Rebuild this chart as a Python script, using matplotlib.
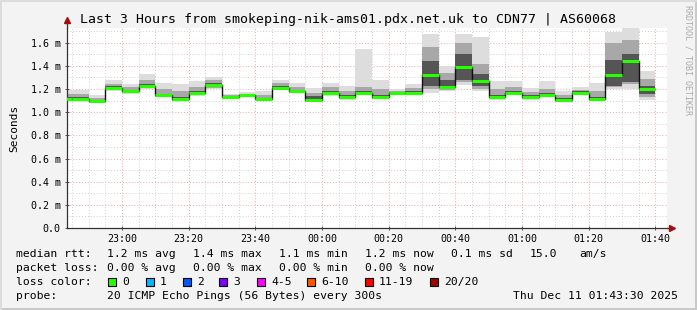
import numpy as np
import matplotlib
matplotlib.use('Agg')
import matplotlib.pyplot as plt
from matplotlib.patches import Rectangle

W, H = 697, 310

# 5 minute bins, minutes counted from 22:40
bin_start = np.arange(0, 180, 5)

# ping statistics per bin (ms)
median = [1.116, 1.114, 1.096, 1.209, 1.180, 1.223, 1.145, 1.114, 1.165, 1.232,
          1.134, 1.145, 1.111, 1.206, 1.180, 1.108, 1.165, 1.134, 1.168, 1.131,
          1.163, 1.168, 1.318, 1.220, 1.393, 1.266, 1.131, 1.166, 1.134, 1.151,
          1.108, 1.165, 1.116, 1.324, 1.439, 1.200]
ping_min = [1.093, 1.088, 1.079, 1.180, 1.160, 1.203, 1.128, 1.088, 1.142, 1.200,
            1.116, 1.137, 1.100, 1.188, 1.165, 1.088, 1.142, 1.108, 1.145, 1.111,
            1.151, 1.151, 1.168, 1.186, 1.238, 1.186, 1.108, 1.145, 1.108, 1.128,
            1.088, 1.145, 1.100, 1.200, 1.200, 1.108]
ping_p10 = [1.100, 1.097, 1.085, 1.190, 1.166, 1.210, 1.134, 1.096, 1.150, 1.210,
            1.122, 1.139, 1.104, 1.193, 1.170, 1.095, 1.150, 1.116, 1.152, 1.117,
            1.154, 1.155, 1.200, 1.195, 1.260, 1.200, 1.115, 1.150, 1.115, 1.135,
            1.094, 1.150, 1.104, 1.215, 1.240, 1.130]
ping_p25 = [1.108, 1.106, 1.090, 1.200, 1.172, 1.216, 1.139, 1.105, 1.157, 1.222,
            1.128, 1.141, 1.107, 1.199, 1.174, 1.100, 1.157, 1.124, 1.160, 1.124,
            1.158, 1.160, 1.230, 1.205, 1.280, 1.225, 1.122, 1.157, 1.125, 1.142,
            1.100, 1.156, 1.108, 1.225, 1.260, 1.160]
ping_p75 = [1.130, 1.128, 1.106, 1.222, 1.192, 1.240, 1.160, 1.132, 1.180, 1.250,
            1.143, 1.150, 1.125, 1.225, 1.192, 1.140, 1.185, 1.150, 1.185, 1.150,
            1.172, 1.185, 1.440, 1.280, 1.500, 1.330, 1.150, 1.180, 1.150, 1.165,
            1.125, 1.180, 1.135, 1.450, 1.500, 1.230]
ping_p90 = [1.160, 1.155, 1.125, 1.245, 1.215, 1.280, 1.200, 1.180, 1.220, 1.275,
            1.150, 1.160, 1.150, 1.250, 1.215, 1.170, 1.215, 1.185, 1.220, 1.200,
            1.185, 1.210, 1.560, 1.340, 1.600, 1.420, 1.200, 1.220, 1.175, 1.200,
            1.150, 1.195, 1.180, 1.600, 1.620, 1.290]
ping_max = [1.194, 1.194, 1.145, 1.275, 1.246, 1.333, 1.252, 1.243, 1.266, 1.304,
            1.160, 1.174, 1.186, 1.280, 1.252, 1.209, 1.252, 1.229, 1.549, 1.281,
            1.203, 1.243, 1.675, 1.396, 1.675, 1.652, 1.272, 1.272, 1.209, 1.266,
            1.186, 1.220, 1.252, 1.693, 1.760, 1.359]

time_ticks = [20, 40, 60, 80, 100, 120, 140, 160, 180]
time_labels = ['23:00', '23:20', '23:40', '00:00', '00:20', '00:40', '01:00', '01:20', '01:40']
y_ticks = [0.0, 0.2, 0.4, 0.6, 0.8, 1.0, 1.2, 1.4, 1.6]

loss_names = ['0', '1', '2', '3', '4-5', '6-10', '11-19', '20/20']
loss_colors = ['#26ff00', '#00b8ff', '#0059ff', '#7e00ff', '#ff00ff', '#ff5500', '#ff0000', '#a10000']

plt.rcParams['font.family'] = 'DejaVu Sans Mono'

fig = plt.figure(figsize=(W / 100, H / 100), dpi=100, facecolor='#f3f3f3')

def px(x, y):
    return x / W, 1 - y / H

ax = fig.add_axes([67 / W, 1 - 228 / H, 600 / W, 200 / H])
ax.set_facecolor('white')
ax.set_xlim(3.5, 183.5)
ax.set_ylim(0, 1.727)

# grid
for t in np.arange(5, 185, 5):
    major = t % 20 == 0
    ax.axvline(t, color='#f0a8a8' if major else '#cfcfcf', lw=0.7,
               linestyle=(0, (1, 2)), zorder=0)
for v in np.arange(0.1, 1.75, 0.1):
    major = round(v * 10) % 2 == 0
    ax.axhline(v, color='#f0a8a8' if major else '#cfcfcf', lw=0.7,
               linestyle=(0, (1, 2)), zorder=0)

# smoke
lo = np.array(ping_min)
ax.bar(bin_start, np.array(ping_max) - lo, bottom=lo, width=5, align='edge',
       color='#dddddd', lw=0, zorder=1)
ax.bar(bin_start, np.array(ping_p90) - np.array(ping_p10), bottom=ping_p10, width=5,
       align='edge', color='#a8a8a8', lw=0, zorder=2)
ax.bar(bin_start, np.array(ping_p75) - np.array(ping_p25), bottom=ping_p25, width=5,
       align='edge', color='#555555', lw=0, zorder=3)

# median
edges = np.append(bin_start, bin_start[-1] + 5)
ax.stairs(median, edges, baseline=None, color='#111111', lw=1.0, zorder=4)
ax.hlines(median, bin_start, bin_start + 5, color=loss_colors[0], lw=2.2, zorder=5)

# axes
for s in ['top', 'right']:
    ax.spines[s].set_visible(False)
for s in ['left', 'bottom']:
    ax.spines[s].set_color('#333333')
    ax.spines[s].set_linewidth(0.9)
ax.plot([0, 0], [1, 1.04], transform=ax.transAxes, color='#333333', lw=0.9, clip_on=False)
ax.plot([1, 1.008], [0, 0], transform=ax.transAxes, color='#333333', lw=0.9, clip_on=False)
ax.plot([0], [1.04], marker='^', ms=4, color='#a01010', transform=ax.transAxes, clip_on=False)
ax.plot([1.008], [0], marker='>', ms=4, color='#a01010', transform=ax.transAxes, clip_on=False)

ax.set_xticks(time_ticks)
ax.set_xticklabels(time_labels, fontsize=7.2)
ax.set_yticks(y_ticks)
ax.set_yticklabels(['0.0'] + ['%.1f m' % v for v in y_ticks[1:]], fontsize=7.2)
ax.tick_params(direction='inout', length=3, width=0.7, color='#555555', pad=3)
ax.set_ylabel('Seconds', fontsize=8, labelpad=8)

# title and side text
fig.text(*px(348, 19), 'Last 3 Hours from smokeping-nik-ams01.pdx.net.uk to CDN77 | AS60068',
         ha='center', va='center', fontsize=9.5)
fig.text(*px(688, 5), 'RRDTOOL / TOBI OETIKER', rotation=270, ha='center', va='top',
         fontsize=6, color='#aaaaaa')

# legend rows
fs = 8.2
rows = [
    (254, [(16, 'median rtt:'), (107, '1.2 ms avg'), (193, '1.4 ms max'), (279, '1.1 ms min'),
           (365, '1.2 ms now'), (451, '0.1 ms sd'), (530, '15.0'), (579, 'am/s')]),
    (268, [(16, 'packet loss:'), (107, '0.00 % avg'), (193, '0.00 % max'), (279, '0.00 % min'),
           (365, '0.00 % now')]),
    (282, [(16, 'loss color:')]),
    (296, [(16, 'probe:'), (107, '20 ICMP Echo Pings (56 Bytes) every 300s'),
           (513, 'Thu Dec 11 01:43:30 2025')]),
]
for y, items in rows:
    for x, s in items:
        fig.text(*px(x, y), s, ha='left', va='center', fontsize=fs)

swatch_x = [108, 146, 183, 219, 257, 307, 365, 430]
for x, name, c in zip(swatch_x, loss_names, loss_colors):
    fig.patches.append(Rectangle(px(x, 286), 8 / W, 8 / H, transform=fig.transFigure,
                                 facecolor=c, edgecolor='black', lw=0.8))
    fig.text(*px(x + 14, 282), name, ha='left', va='center', fontsize=fs)

# frame
fig.patches.append(Rectangle((0, 0), 1, 2 / H, transform=fig.transFigure, facecolor='#c9c9c9', lw=0))
fig.patches.append(Rectangle((1 - 2 / W, 0), 2 / W, 1, transform=fig.transFigure, facecolor='#c9c9c9', lw=0))
fig.patches.append(Rectangle((0, 1 - 2 / H), 1, 2 / H, transform=fig.transFigure, facecolor='#dcdcdc', lw=0))
fig.patches.append(Rectangle((0, 0), 2 / W, 1, transform=fig.transFigure, facecolor='#dcdcdc', lw=0))

fig.savefig('out.png', dpi=100, facecolor=fig.get_facecolor())
